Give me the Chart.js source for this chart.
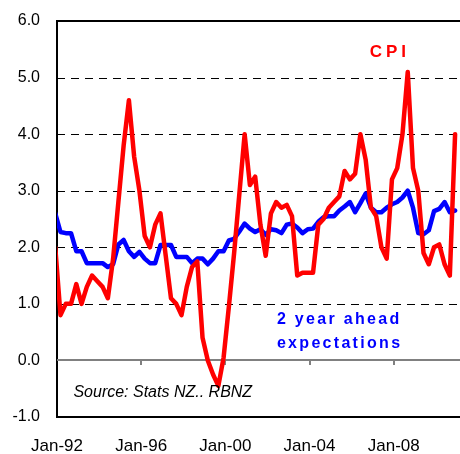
<!DOCTYPE html>
<html>
<head>
<meta charset="utf-8">
<title>CPI and inflation expectations</title>
<script src="https://cdn.jsdelivr.net/npm/chart.js@4.4.1/dist/chart.umd.min.js"></script>
<style>
    html, body { margin: 0; padding: 0; background: #ffffff; }
    canvas { display: block; }
</style>
</head>
<body>
<canvas id="line-chart" width="460" height="454"></canvas>
<script>

// quarterly series, first point Dec-91, last point Dec-10
const firstQuarter = { year: 1991, month: 12 };

// annual CPI inflation (%)
const cpi = [
    2.0,
    0.8, 1.0, 1.0, 1.35,   1.0, 1.3, 1.5, 1.4,   1.3, 1.1, 1.8, 2.8,   3.8, 4.6, 3.6, 3.0,
    2.2, 2.0, 2.4, 2.6,    1.85, 1.1, 1.0, 0.8,  1.3, 1.65, 1.75, 0.4, 0.0, -0.25, -0.45, 0.05,
    0.95, 1.9, 2.95, 4.0,  3.1, 3.25, 2.4, 1.85, 2.6, 2.8, 2.7, 2.75,  2.55, 1.5, 1.55, 1.55,
    1.55, 2.4, 2.5, 2.7,   2.8, 2.9, 3.35, 3.2,  3.3, 4.0, 3.55, 2.7,  2.55, 2.0, 1.8, 3.2,
    3.4, 4.0, 5.1, 3.4,    3.0, 1.9, 1.7, 2.0,   2.05, 1.7, 1.5, 4.0
];

// 2 year ahead inflation expectations (%)
const expectations = [
    2.6,
    2.27, 2.25, 2.25, 1.93, 1.93, 1.72, 1.72, 1.72, 1.72, 1.65, 1.7, 2.05, 2.13, 1.93, 1.83, 1.92,
    1.8, 1.72, 1.72, 2.04, 2.04, 2.04, 1.83, 1.83, 1.83, 1.72, 1.8, 1.8, 1.7, 1.8, 1.93, 1.93,
    2.12, 2.15, 2.28, 2.42, 2.33, 2.27, 2.32, 2.22, 2.32, 2.3, 2.25, 2.4, 2.42, 2.35, 2.25, 2.32,
    2.33, 2.45, 2.53, 2.55, 2.55, 2.65, 2.72, 2.8, 2.62, 2.78, 2.95, 2.7, 2.62, 2.62, 2.7, 2.76,
    2.8, 2.88, 3.0, 2.7, 2.25, 2.23, 2.3, 2.64, 2.68, 2.8, 2.62, 2.65
];

const xTickYears = [1992, 1996, 2000, 2004, 2008];
const xTickLabels = ['Jan-92', 'Jan-96', 'Jan-00', 'Jan-04', 'Jan-08'];
const yTicks = [-1, 0, 1, 2, 3, 4, 5, 6];

const xMin = 1992;
const xMax = 2011.15;

// text written on the plot area (x in years, y in %)
const notes = [
    { text: 'CPI', x: 2007.72, y: 5.45, color: '#ff0000', font: 'bold 17px "Liberation Sans", Arial, sans-serif', spacing: 4, align: 'center' },
    { text: '2 year ahead', x: 2002.45, y: 0.73, color: '#0000ff', font: 'bold 16px "Liberation Sans", Arial, sans-serif', spacing: 2.3, align: 'left' },
    { text: 'expectations', x: 2002.45, y: 0.30, color: '#0000ff', font: 'bold 16px "Liberation Sans", Arial, sans-serif', spacing: 2.3, align: 'left' },
    { text: 'Source: Stats NZ.. RBNZ', x: 1992.78, y: -0.57, color: '#000000', font: 'italic 16px "Liberation Sans", Arial, sans-serif', spacing: 0, align: 'left' }
];

// quarter positions as decimal years (a quarter is plotted at the 1st of its last month)
function quarterPositions(n) {
    let out = [];
    let y = firstQuarter.year, m = firstQuarter.month;
    for (let i = 0; i < n; i++) {
        out.push(y + (m - 1) / 12);
        m += 3;
        if (m > 12) { m -= 12; y++; }
    }
    return out;
}

function toPoints(values) {
    const xs = quarterPositions(values.length);
    return values.map((v, i) => ({ x: xs[i], y: v }));
}

function drawSpaced(ctx, text, x, y, spacing, align) {
    let widths = Array.from(text).map(ch => ctx.measureText(ch).width);
    let total = widths.reduce((a, b) => a + b, 0) + spacing * (text.length - 1);
    let cx = align === 'center' ? x - total / 2 : x;
    ctx.textAlign = 'left';
    Array.from(text).forEach((ch, i) => {
        ctx.fillText(ch, cx, y);
        cx += widths[i] + spacing;
    });
}

const plotExtras = {
    id: 'plotExtras',
    beforeDatasetsDraw(chart) {
        const { ctx, chartArea: area, scales: { x, y } } = chart;
        const w = area.right - area.left;
        ctx.save();
        // horizontal grid: dashed inside, solid at top, bottom and zero
        yTicks.forEach(v => {
            const py = Math.round(y.getPixelForValue(v));
            if (v === 0) {
                ctx.fillStyle = '#808080';
                ctx.fillRect(area.left, py - 1, w, 2);
            } else if (v === -1 || v === 6) {
                ctx.fillStyle = '#000000';
                ctx.fillRect(area.left, py - 1, w, 2);
            } else {
                ctx.strokeStyle = '#000000';
                ctx.lineWidth = 1;
                ctx.setLineDash([8, 6]);
                ctx.beginPath();
                ctx.moveTo(area.left, py + 0.5);
                ctx.lineTo(area.right, py + 0.5);
                ctx.stroke();
            }
        });
        // small tick marks hanging under the zero line
        const y0 = Math.round(y.getPixelForValue(0));
        ctx.fillStyle = '#808080';
        xTickYears.forEach(v => {
            if (v === xMin) return;
            const px = Math.round(x.getPixelForValue(v));
            ctx.fillRect(px - 1, y0, 2, 5);
        });
        ctx.restore();
    },
    afterDatasetsDraw(chart) {
        const { ctx, scales: { x, y } } = chart;
        ctx.save();
        ctx.textBaseline = 'middle';
        notes.forEach(n => {
            ctx.font = n.font;
            ctx.fillStyle = n.color;
            drawSpaced(ctx, n.text, x.getPixelForValue(n.x), y.getPixelForValue(n.y), n.spacing, n.align);
        });
        ctx.restore();
    }
};

const chart_data = {
    datasets: [
        {
            label: 'CPI',
            data: toPoints(cpi),
            borderColor: '#ff0000',
            borderWidth: 4.5,
            pointRadius: 0,
            tension: 0,
            borderJoinStyle: 'round',
            borderCapStyle: 'round'
        },
        {
            label: '2 year ahead expectations',
            data: toPoints(expectations),
            borderColor: '#0000ff',
            borderWidth: 4.5,
            pointRadius: 0,
            tension: 0,
            borderJoinStyle: 'round',
            borderCapStyle: 'round'
        }
    ]
};

const options = {
    responsive: false,
    animation: false,
    events: [],
    layout: { padding: { top: 21, right: 0, bottom: 0, left: 0 } },
    plugins: {
        legend: { display: false },
        tooltip: { enabled: false }
    },
    scales: {
        x: {
            type: 'linear',
            min: xMin,
            max: xMax,
            afterBuildTicks: scale => { scale.ticks = xTickYears.map(v => ({ value: v })); },
            afterFit: scale => { scale.height = 37; scale.paddingRight = 0; },
            grid: { display: false, drawTicks: false },
            border: { display: false },
            ticks: {
                padding: 19,
                color: '#000000',
                maxRotation: 0,
                autoSkip: false,
                font: { family: '"Liberation Sans", Arial, sans-serif', size: 17 },
                callback: value => xTickLabels[xTickYears.indexOf(value)]
            }
        },
        y: {
            min: -1,
            max: 6,
            afterBuildTicks: scale => { scale.ticks = yTicks.map(v => ({ value: v })); },
            afterFit: scale => { scale.width = 57; scale.paddingTop = 0; scale.paddingBottom = 0; },
            grid: { display: false, drawTicks: false },
            border: { display: true, color: '#000000', width: 2 },
            ticks: {
                padding: 17,
                color: '#000000',
                font: { family: '"Liberation Sans", Arial, sans-serif', size: 16 },
                callback: value => value.toFixed(1)
            }
        }
    }
};

const line_chart = document.getElementById('line-chart').getContext('2d');

const graph = new Chart(line_chart, {
    type: 'line',
    data: chart_data,
    options: options,
    plugins: [plotExtras]
});

</script>
</body>
</html>
